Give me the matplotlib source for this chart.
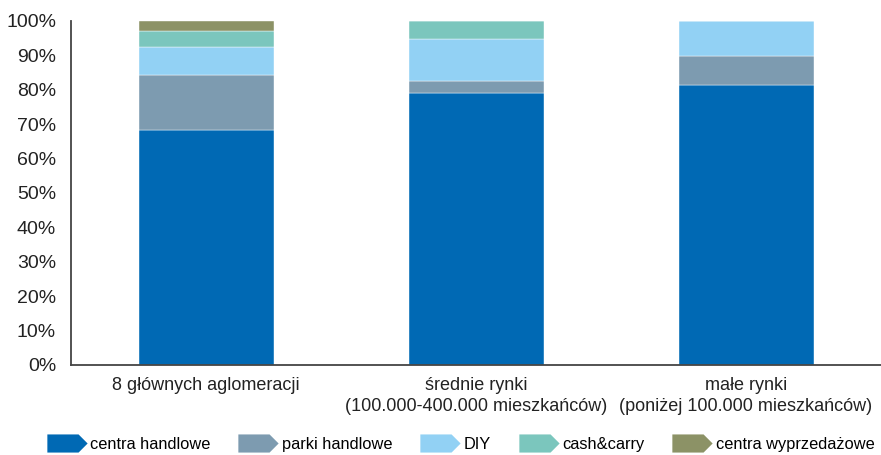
import matplotlib
matplotlib.use('Agg')
import matplotlib.pyplot as plt
import numpy as np
from matplotlib.path import Path
from matplotlib.lines import Line2D

plt.rcParams['font.family'] = ['Liberation Sans', 'DejaVu Sans']

# udziały typów obiektów handlowych w poszczególnych rynkach (%)
categories = ['8 głównych aglomeracji',
              'średnie rynki\n(100.000-400.000 mieszkańców)',
              'małe rynki\n(poniżej 100.000 mieszkańców)']
series_names = ['centra handlowe', 'parki handlowe', 'DIY', 'cash&carry', 'centra wyprzedażowe']
centra_handlowe = [68.3, 79.0, 81.4]
parki_handlowe = [16.0, 3.6, 8.4]
diy = [8.2, 12.1, 10.2]
cash_carry = [4.6, 5.3, 0.0]
centra_wyprzedazowe = [2.9, 0.0, 0.0]
colors = ['#0069b4', '#7d9bb0', '#92d1f4', '#7bc6bd', '#8c9266']

series = [centra_handlowe, parki_handlowe, diy, cash_carry, centra_wyprzedazowe]

fig, ax = plt.subplots(figsize=(8.81, 4.55), dpi=100)
fig.subplots_adjust(left=0.081, right=1.0, top=0.954, bottom=0.198)

x = np.arange(len(categories))
bottom = np.zeros(len(categories))
for vals, col in zip(series, colors):
    vals = np.array(vals)
    ax.bar(x, vals, bottom=bottom, width=0.5, color=col, edgecolor='#ffffff', linewidth=0.3)
    bottom += vals

ax.set_xlim(-0.5, 2.5)
ax.set_ylim(0, 100)
ax.set_yticks(np.arange(0, 101, 10))
ax.set_yticklabels([f'{v}%' for v in range(0, 101, 10)], fontsize=14, color='#222222')
ax.set_xticks(x)
ax.set_xticklabels(categories, fontsize=13, color='#222222', linespacing=1.3)
ax.tick_params(axis='both', length=0)
ax.tick_params(axis='x', pad=9)
ax.tick_params(axis='y', pad=11)

for s in ['top', 'right']:
    ax.spines[s].set_visible(False)
for s in ['left', 'bottom']:
    ax.spines[s].set_color('#444444')
    ax.spines[s].set_linewidth(1.3)

# znaczniki legendy w kształcie strzałki
arrow = Path([(-1, -0.45), (0.55, -0.45), (1, 0), (0.55, 0.45), (-1, 0.45), (-1, -0.45)],
             [Path.MOVETO, Path.LINETO, Path.LINETO, Path.LINETO, Path.LINETO, Path.CLOSEPOLY])
handles = [Line2D([], [], linestyle='none', marker=arrow, markersize=29,
                  markerfacecolor=c, markeredgecolor='none') for c in colors]
fig.legend(handles, series_names, loc='center', bbox_to_anchor=(0.523, 0.024),
           ncol=5, frameon=False, fontsize=11.8, handlelength=2.4, handletextpad=0.25,
           columnspacing=1.7, borderpad=0)

plt.savefig('out.png', dpi=100)
plt.close()
